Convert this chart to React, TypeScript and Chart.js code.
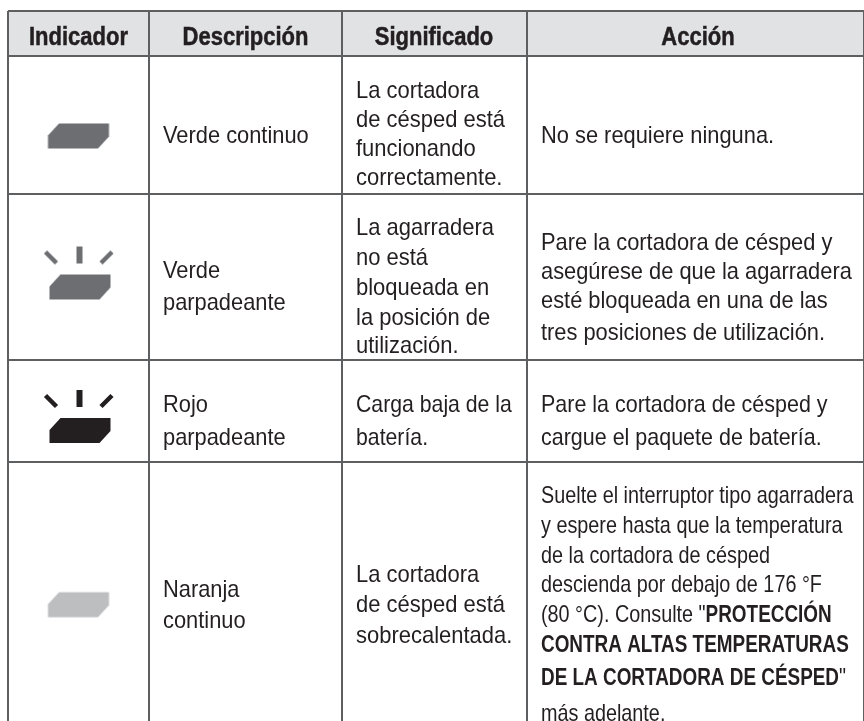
import React, { useEffect, useRef } from "react";
import { Chart, registerables } from "chart.js";

Chart.register(...registerables);

// ---------- table content ----------
const headers = ["Indicador", "Descripción", "Significado", "Acción"];
const descriptions = [
  ["Verde continuo"],
  ["Verde", "parpadeante"],
  ["Rojo", "parpadeante"],
  ["Naranja", "continuo"],
];
const meanings = [
  ["La cortadora", "de césped está", "funcionando", "correctamente."],
  ["La agarradera", "no está", "bloqueada en", "la posición de", "utilización."],
  ["Carga baja de la", "batería."],
  ["La cortadora", "de césped está", "sobrecalentada."],
];
const actions = [
  ["No se requiere ninguna."],
  ["Pare la cortadora de césped y", "asegúrese de que la agarradera", "esté bloqueada en una de las", "tres posiciones de utilización."],
  ["Pare la cortadora de césped y", "cargue el paquete de batería."],
  [
    "Suelte el interruptor tipo agarradera",
    "y espere hasta que la temperatura",
    "de la cortadora de césped",
    "descienda por debajo de 176 °F",
    "(80 °C). Consulte \"**PROTECCIÓN",
    "CONTRA ALTAS TEMPERATURAS",
    "DE LA CORTADORA DE CÉSPED**\"",
    "más adelante.",
  ],
];
const indicatorColors = ["#6d6e71", "#6d6e71", "#231f20", "#bcbec0"];
const indicatorFlashing = [false, true, true, false];

// ---------- layout, in page pixels (the scales run 1:1 with the page) ----------
const columnEdges = [7.5, 149, 342, 526.5, 864];
const rowEdges = [11, 55.5, 193.5, 360, 462];
const indicatorX = [78.5, 80, 80, 78.5];
const indicatorY = [136, 273.5, 417, 604.7];
const headerBaseline = 45;
const headerCentres = [78.5, 245.5, 434, 698];
const descBaselines = [[143], [278, 310], [412, 445], [597, 628]];
const meaningBaselines = [
  [98, 127, 156, 185],
  [235, 265, 295, 325, 353],
  [412, 445],
  [582, 612, 643],
];
const actionBaselines = [
  [143],
  [250, 279, 308, 340],
  [412, 445],
  [503, 533, 563, 592, 622, 652, 685, 721],
];
const TEXT = "#231f20";
const FONT = '"Liberation Sans", Arial, sans-serif';

function makeSprite(color: string, flashing: boolean): HTMLCanvasElement {
  const c = document.createElement("canvas");
  const w = 76, h = flashing ? 56 : 28;
  c.width = w;
  c.height = h;
  const g = c.getContext("2d")!;
  g.fillStyle = color;
  g.strokeStyle = color;
  const ox = 7.5;
  const oy = flashing ? 29 : 1.5;
  g.beginPath();
  g.moveTo(ox, oy + 12);
  g.lineTo(ox + 11, oy);
  g.lineTo(ox + 61, oy);
  g.lineTo(ox + 61, oy + 13);
  g.lineTo(ox + 50, oy + 25);
  g.lineTo(ox, oy + 25);
  g.closePath();
  g.fill();
  if (flashing) {
    g.fillRect(ox + 27, 1, 6, 17);
    g.lineWidth = 4.5;
    g.beginPath();
    g.moveTo(ox - 4, 6.5);
    g.lineTo(ox + 7, 17.5);
    g.moveTo(ox + 62.5, 6.5);
    g.lineTo(ox + 51.5, 17.5);
    g.stroke();
  }
  return c;
}

function drawRuns(ctx: CanvasRenderingContext2D, line: string, x: number, y: number, size: number, squeeze: number, startBold: boolean): boolean {
  const parts = line.split("**");
  let bold = startBold;
  let cx = x;
  parts.forEach((p, i) => {
    if (i > 0) bold = !bold;
    ctx.font = `${bold ? "bold " : ""}${size}px ${FONT}`;
    const sq = bold ? squeeze * 0.955 : squeeze;
    ctx.save();
    ctx.translate(cx, y);
    ctx.scale(sq, 1);
    ctx.textAlign = "left";
    ctx.fillText(p, 0, 0);
    ctx.restore();
    cx += ctx.measureText(p).width * sq;
  });
  return bold;
}

const tablePlugin = {
  id: "tableCells",
  beforeDraw(chart: any) {
    const { ctx, scales } = chart;
    const x = scales.x, y = scales.y;
    ctx.save();
    ctx.fillStyle = "#ffffff";
    ctx.fillRect(0, 0, chart.width, chart.height);
    ctx.fillStyle = "#e1e2e4";
    ctx.fillRect(x.getPixelForValue(columnEdges[0]), y.getPixelForValue(rowEdges[0]), x.getPixelForValue(864) - x.getPixelForValue(columnEdges[0]), y.getPixelForValue(rowEdges[1]) - y.getPixelForValue(rowEdges[0]));
    ctx.restore();
  },
  afterDatasetsDraw(chart: any) {
    const { ctx, scales } = chart;
    const x = scales.x, y = scales.y;
    ctx.save();
    ctx.fillStyle = TEXT;
    ctx.strokeStyle = TEXT;
    ctx.lineWidth = 0.5;
    ctx.textBaseline = "alphabetic";
    headers.forEach((h, i) => {
      ctx.font = `bold 25px ${FONT}`;
      const sq = 0.88;
      const w = ctx.measureText(h).width * sq;
      ctx.save();
      ctx.translate(x.getPixelForValue(headerCentres[i]) - w / 2, y.getPixelForValue(headerBaseline));
      ctx.scale(sq, 1);
      ctx.textAlign = "left";
      ctx.fillText(h, 0, 0);
      ctx.strokeText(h, 0, 0);
      ctx.restore();
    });
    const col = (lines: string[][], bl: number[][], left: number, sizeFn: (r: number) => [number, number]) => {
      lines.forEach((cell, r) => {
        let bold = false;
        const [size, sq] = sizeFn(r);
        cell.forEach((line, l) => {
          bold = drawRuns(ctx, line, x.getPixelForValue(left), y.getPixelForValue(bl[r][l]), size, sq, bold);
        });
      });
    };
    col(descriptions, descBaselines, 163, () => [24, 0.91]);
    col(meanings, meaningBaselines, 356, (r) => (r === 2 ? [24, 0.885] : [24, 0.915]));
    col(actions, actionBaselines, 541, (r) => (r === 3 ? [24, 0.825] : r === 2 ? [24, 0.895] : [24, 0.91]));
    ctx.restore();
  },
};

export default function App() {
  const ref = useRef<HTMLCanvasElement>(null);
  useEffect(() => {
    const sprites = indicatorColors.map((c, i) => makeSprite(c, indicatorFlashing[i]));
    const chart = new Chart(ref.current!, {
      type: "scatter",
      data: {
        labels: descriptions.map((d) => d.join(" ")),
        datasets: [
          {
            label: "Indicador",
            data: indicatorX.map((vx, i) => ({ x: vx, y: indicatorY[i] })),
            pointStyle: sprites as any,
            pointRadius: 10,
            clip: false as any,
          },
        ],
      },
      options: {
        responsive: false,
        animation: false,
        events: [],
        layout: { autoPadding: false, padding: { left: 7.5, top: 11, right: 0, bottom: 0 } },
        plugins: { legend: { display: false }, tooltip: { enabled: false } },
        scales: {
          x: {
            type: "linear",
            min: 7.5,
            max: 864,
            afterBuildTicks: (s: any) => {
              s.ticks = columnEdges.map((v) => ({ value: v }));
            },
            ticks: { display: false },
            border: { display: false },
            grid: { color: "#5e5f61", lineWidth: 2, drawTicks: false },
          },
          y: {
            type: "linear",
            reverse: true,
            min: 11,
            max: 721,
            afterBuildTicks: (s: any) => {
              s.ticks = rowEdges.map((v) => ({ value: v }));
            },
            ticks: { display: false },
            border: { display: false },
            grid: { color: "#5e5f61", lineWidth: 2, drawTicks: false },
          },
        },
      },
      plugins: [tablePlugin],
    } as any);
    return () => chart.destroy();
  }, []);
  return (
    <div style={{ position: "absolute", left: 0, top: 0, width: 864, height: 721 }}>
      <canvas ref={ref} width={864} height={721} style={{ display: "block" }} />
    </div>
  );
}
